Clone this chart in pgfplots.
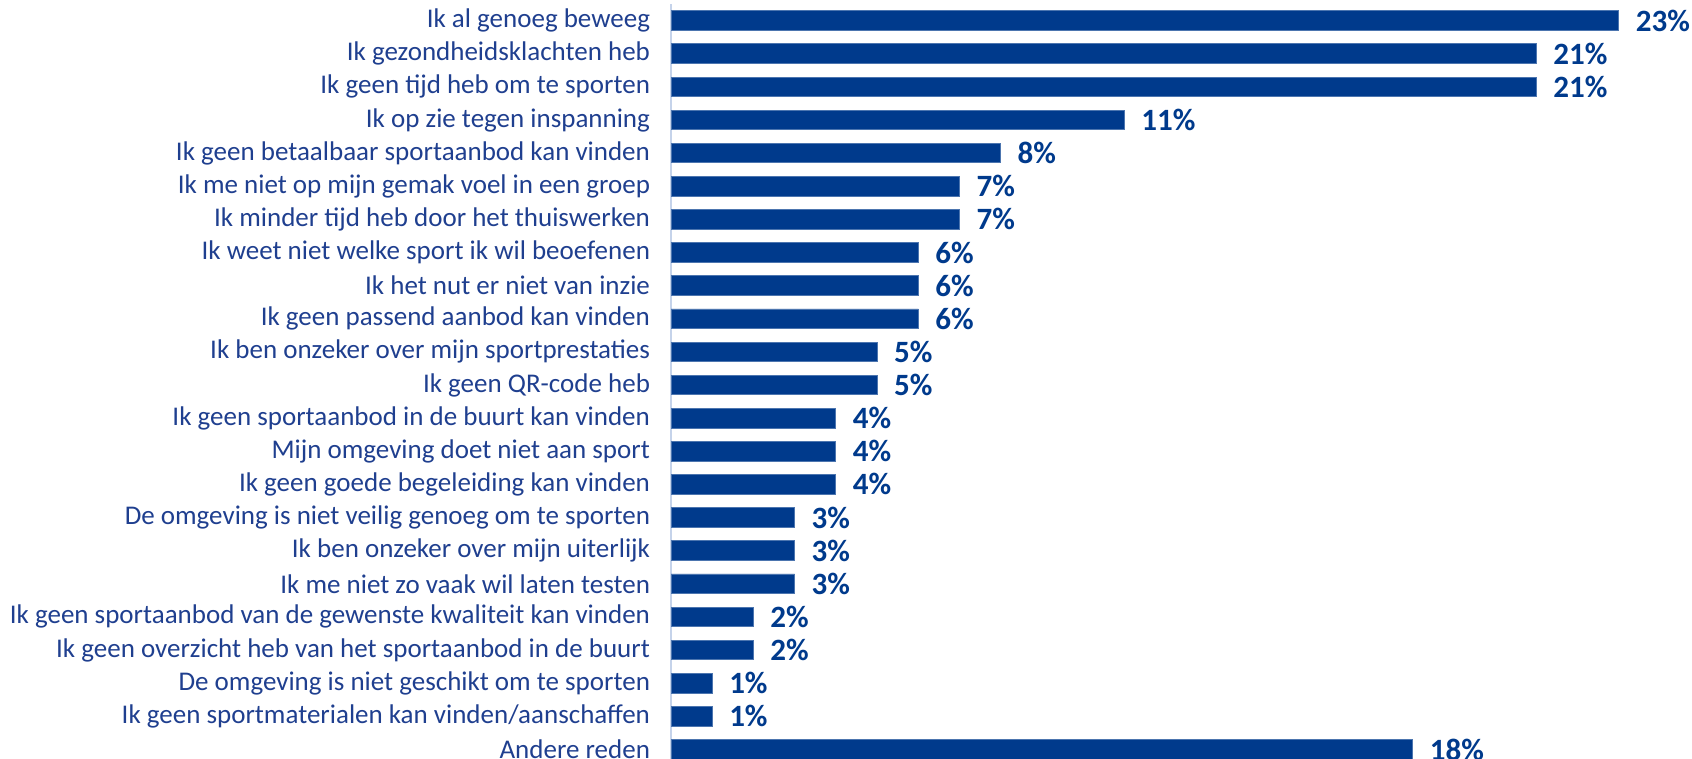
\documentclass[border=0pt]{standalone}
\usepackage{fontspec}
\setmainfont{Carlito}
\usepackage{pgfplots}
\pgfplotsset{compat=1.18}
\definecolor{barblue}{HTML}{003A8C}
\definecolor{txtblue}{HTML}{1F3F8F}
\definecolor{axisblue}{HTML}{C5D3EA}
\begin{document}
\begin{tikzpicture}
\begin{axis}[
    at={(335.5pt,-3.5pt)}, anchor=south west,
    scale only axis,
    width=511pt, height=381pt,
    xbar, bar width=9.8pt,
    xmin=0, xmax=24.8,
    ymin=-0.5, ymax=22.5,
    axis y line*=left,
    hide x axis,
    y axis line style={draw=axisblue, line width=0.8pt},
    ytick={0,...,22},
    yticklabels={Andere reden,
        Ik geen sportmaterialen kan vinden/aanschaffen,
        De omgeving is niet geschikt om te sporten,
        Ik geen overzicht heb van het sportaanbod in de buurt,
        Ik geen sportaanbod van de gewenste kwaliteit kan vinden,
        Ik me niet zo vaak wil laten testen,
        Ik ben onzeker over mijn uiterlijk,
        De omgeving is niet veilig genoeg om te sporten,
        Ik geen goede begeleiding kan vinden,
        Mijn omgeving doet niet aan sport,
        Ik geen sportaanbod in de buurt kan vinden,
        Ik geen QR-code heb,
        Ik ben onzeker over mijn sportprestaties,
        Ik geen passend aanbod kan vinden,
        Ik het nut er niet van inzie,
        Ik weet niet welke sport ik wil beoefenen,
        Ik minder tijd heb door het thuiswerken,
        Ik me niet op mijn gemak voel in een groep,
        Ik geen betaalbaar sportaanbod kan vinden,
        Ik op zie tegen inspanning,
        Ik geen tijd heb om te sporten,
        Ik gezondheidsklachten heb,
        Ik al genoeg beweeg},
    major tick length=0pt,
    yticklabel style={font=\fontsize{13.5}{14}\selectfont, text=txtblue, anchor=east, xshift=-7pt},
    /pgf/number format/assume math mode=true,
    nodes near coords={\pgfmathprintnumber{\pgfplotspointmeta}\%},
    nodes near coords style={font=\fontsize{15.5}{16}\selectfont\bfseries, text=barblue, anchor=west, xshift=5pt},
    point meta=x,
    clip=false,
]
\addplot[fill=barblue, draw=barblue!70!white, line width=0.4pt] coordinates {
    (18,0) (1,1) (1,2) (2,3) (2,4) (3,5) (3,6) (3,7) (4,8) (4,9) (4,10)
    (5,11) (5,12) (6,13) (6,14) (6,15) (7,16) (7,17) (8,18) (11,19)
    (21,20) (21,21) (23,22)};
\end{axis}
\pgfresetboundingbox
\useasboundingbox (0,0) rectangle (846pt,379.5pt);
\end{tikzpicture}
\end{document}
